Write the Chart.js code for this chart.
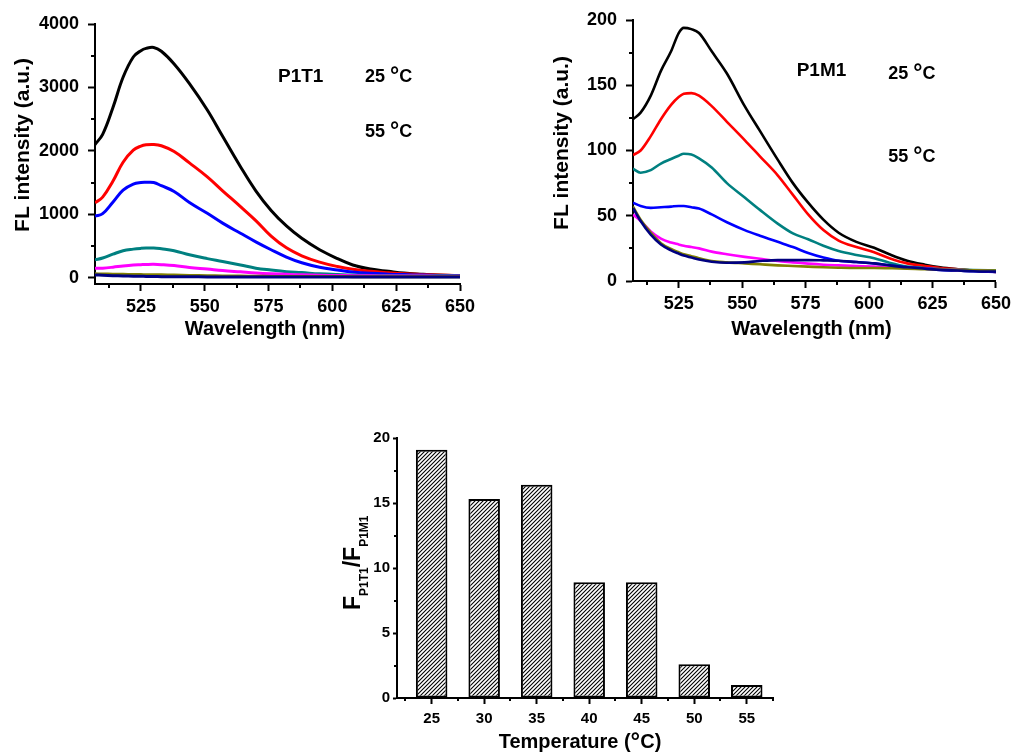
<!DOCTYPE html>
<html><head><meta charset="utf-8">
<script src="https://cdn.jsdelivr.net/npm/chart.js@4.4.1/dist/chart.umd.min.js"></script>
<style>
html,body{margin:0;padding:0;background:#fff;width:1016px;height:753px;overflow:hidden;}
canvas{position:absolute;}
</style></head><body>
<canvas id="c1" width="500" height="350" style="left:0px;top:0px"></canvas>
<canvas id="c2" width="476" height="350" style="left:540px;top:0px"></canvas>
<canvas id="c3" width="480" height="333" style="left:320px;top:420px"></canvas>
<script>
// ---------- data ----------
const wavelengths = [507,510,514,518,522,525,527,530,533,538,544,551,557,564,570,576,582,588,595,602,608,615,622,628,635,641,650];

// P1T1 spectra (25..55 °C)
const p1t1_25 = [2100,2260,2680,3160,3480,3580,3615,3630,3570,3370,3060,2645,2230,1750,1370,1060,815,620,440,300,200,135,100,72,54,42,32];
const p1t1_30 = [1180,1270,1520,1820,2010,2075,2095,2100,2080,1990,1810,1590,1370,1120,900,655,470,345,245,175,132,100,78,62,50,42,32];
const p1t1_35 = [970,1010,1190,1380,1475,1500,1503,1500,1450,1360,1185,1015,860,700,565,440,325,235,165,122,90,68,55,48,40,35,30];
const p1t1_40 = [280,310,370,425,450,462,466,468,455,425,360,300,255,200,150,120,95,80,60,48,42,36,33,31,30,29,28];
const p1t1_45 = [148,150,165,185,200,205,208,210,205,190,160,135,112,92,75,62,52,44,38,34,31,29,27,26,25,24,23];
const p1t1_50 = [60,58,55,52,50,48,47,46,44,40,36,32,28,25,22,20,19,18,17,17,16,16,16,15,15,15,15];
const p1t1_55 = [42,38,32,27,23,21,20,18,16,14,13,12,12,11,11,11,11,11,11,11,11,11,11,11,11,11,11];

// P1M1 spectra (25..55 °C)
const p1m1_25 = [124,129,142,161,176,190,194,193,190,176,159,134,115,93,75,60,47,37,30,25.5,20.5,15.5,12.5,10.5,9,8,7];
const p1m1_30 = [96.5,100,111,124,135,141,143.5,144,142,134,122,108,95.5,81,66,51,39,31,26,22,17.5,13.5,11.5,10,9,8,7];
const p1m1_35 = [86,83,85,90,93.5,96,97.5,97,94,87,75,64,54.5,44,36.5,32,27,23,20,17.5,14,11,10,9.2,8.8,8.4,8];
const p1m1_40 = [60,57.5,56,56.5,57,57.5,57.5,56.5,55.5,51,45,39,34.7,30,26,21.5,18,15.5,14.5,13.5,12,10.5,9.5,8.5,8,7.5,7];
const p1m1_45 = [51,46,38,32.5,29.5,28,27,26,25,22.5,20.5,18.5,17,15.3,14.3,13.3,12.5,12,11.5,11,10.5,10,9.5,9,8.5,8,7.5];
const p1m1_50 = [57,47,37,29,24.5,22,20.5,19,17.5,15.3,14.3,13.5,12.8,12,11.5,11,10.5,10.2,10,10,9.8,9.5,9,8.8,8.5,8.2,8];
const p1m1_55 = [56,46,35.5,28,23.5,21,19.5,18,16.5,14.8,14,14.3,15.3,16,16,16,15.8,15.5,14.5,13.5,12,10.5,9.5,8.5,8,7.5,7.2];

const seriesLabels = ['25 °C','30 °C','35 °C','40 °C','45 °C','50 °C','55 °C'];
const p1t1Colors = ['#000000','#ff0000','#0000ff','#008080','#ff00ff','#808000','#000080'];
const p1m1Colors = ['#000000','#ff0000','#008080','#0000ff','#ff00ff','#808000','#000080'];

// ratio bar chart
const temperatures = [25,30,35,40,45,50,55];
const ratios = [19.1,15.3,16.4,8.9,8.9,2.6,1.0];

// tick values
const wlTicks = [525,550,575,600,625,650];
const wlMinor = [512.5,537.5,562.5,587.5,612.5,637.5];
const p1t1Ticks = [0,1000,2000,3000,4000];
const p1t1Minor = [500,1500,2500,3500];
const p1m1Ticks = [0,50,100,150,200];
const p1m1Minor = [25,75,125,175];
const tempTicks = [25,30,35,40,45,50,55];
const tempMinor = [22.5,27.5,32.5,37.5,42.5,47.5,52.5,57.5];
const ratioTicks = [0,5,10,15,20];
const ratioMinor = [2.5,7.5,12.5,17.5];

// ---------- helpers ----------
const FONT = "'Liberation Sans', Arial, Helvetica, sans-serif";
Chart.defaults.font.family = FONT;
Chart.defaults.font.weight = 'bold';
Chart.defaults.color = '#000';
Chart.defaults.animation = false;

function axis(min, max, ticks, tl, pad, fitProp, fitVal, fontSize) {
  return {
    type: 'linear', min: min, max: max, offset: false,
    afterBuildTicks: s => { s.ticks = ticks.map(v => ({value: v})); },
    afterFit: s => { s[fitProp] = fitVal; },
    ticks: { font: {size: fontSize, weight: 'bold', family: FONT}, color: '#000', padding: pad,
             maxRotation: 0, minRotation: 0, autoSkip: false, callback: v => String(v) },
    grid: { display: true, drawOnChartArea: false, drawTicks: true, tickLength: tl,
            tickWidth: 2, tickColor: '#000', offset: false },
    border: { display: true, color: '#000', width: 2 }
  };
}

function minorPlugin(xs, ys, len) {
  return { id: 'minorTicks', afterDraw(chart) {
    const {ctx, chartArea: a, scales: {x, y}} = chart;
    ctx.save(); ctx.strokeStyle = '#000'; ctx.lineWidth = 2; ctx.beginPath();
    xs.forEach(v => { const px = Math.round(x.getPixelForValue(v)); ctx.moveTo(px, a.bottom); ctx.lineTo(px, a.bottom + len); });
    ys.forEach(v => { const py = Math.round(y.getPixelForValue(v)); ctx.moveTo(a.left, py); ctx.lineTo(a.left - len, py); });
    ctx.stroke(); ctx.restore();
  }};
}

function textPlugin(items) {
  return { id: 'texts', afterDraw(chart) {
    const ctx = chart.ctx;
    items.forEach(it => {
      ctx.save();
      ctx.fillStyle = '#000';
      ctx.textBaseline = 'alphabetic';
      ctx.translate(it.x, it.y);
      if (it.rot) ctx.rotate(it.rot);
      if (it.parts) {
        ctx.textAlign = 'left';
        let total = 0;
        it.parts.forEach(p => { ctx.font = 'bold ' + p.size + 'px ' + FONT; total += ctx.measureText(p.text).width; });
        let cx = it.align === 'center' ? -total / 2 : 0;
        it.parts.forEach(p => {
          ctx.font = 'bold ' + p.size + 'px ' + FONT;
          ctx.fillText(p.text, cx, p.dy || 0);
          cx += ctx.measureText(p.text).width;
        });
      } else {
        ctx.font = 'bold ' + it.size + 'px ' + FONT;
        ctx.textAlign = it.align || 'left';
        ctx.fillText(it.text, 0, 0);
      }
      ctx.restore();
    });
  }};
}

function degreeLabel(num, x, y) {
  return {x: x, y: y, parts: [{text: num + ' ', size: 18}, {text: '°', size: 23, dy: 1}, {text: 'C', size: 18}]};
}

function lineDatasets(seriesList, colors, width, smooth) {
  return seriesList.map((vals, i) => Object.assign({
    label: seriesLabels[i],
    data: vals.map((v, j) => ({x: wavelengths[j], y: v})),
    borderColor: colors[i], backgroundColor: colors[i],
    borderWidth: width, pointRadius: 0, fill: false,
    order: seriesList.length - 1 - i
  }, smooth));
}

const basePlugins = { legend: {display: false}, tooltip: {enabled: false}, title: {display: false} };

// ---------- chart 1: P1T1 ----------
new Chart(document.getElementById('c1'), {
  type: 'line',
  data: { datasets: lineDatasets([p1t1_25,p1t1_30,p1t1_35,p1t1_40,p1t1_45,p1t1_50,p1t1_55], p1t1Colors, 3,
          {tension: 0.4, cubicInterpolationMode: 'default'}) },
  options: {
    responsive: false, animation: false,
    layout: { padding: {left: 0, top: 24, right: 40, bottom: 0} },
    plugins: basePlugins,
    scales: {
      x: axis(507, 650, wlTicks, 7, 5, 'height', 66, 18),
      y: axis(-100, 4000, p1t1Ticks, 7, 9, 'width', 95, 18)
    }
  },
  plugins: [minorPlugin(wlMinor, p1t1Minor, 4), textPlugin([
    {text: 'FL intensity (a.u.)', x: 28.5, y: 145, size: 21, align: 'center', rot: -Math.PI/2},
    {text: 'Wavelength (nm)', x: 265, y: 335, size: 20, align: 'center'},
    {text: 'P1T1', x: 278, y: 82, size: 19},
    degreeLabel('25', 365, 82),
    degreeLabel('55', 365, 137)
  ])]
});

// ---------- chart 2: P1M1 ----------
new Chart(document.getElementById('c2'), {
  type: 'line',
  data: { datasets: lineDatasets([p1m1_25,p1m1_30,p1m1_35,p1m1_40,p1m1_45,p1m1_50,p1m1_55], p1m1Colors, 2.6,
          {cubicInterpolationMode: 'monotone'}) },
  options: {
    responsive: false, animation: false,
    layout: { padding: {left: 0, top: 20, right: 17, bottom: 0} },
    plugins: basePlugins,
    scales: {
      x: axis(507, 650, wlTicks, 7, 5, 'height', 69, 18),
      y: axis(0, 200, p1m1Ticks, 7, 9, 'width', 93, 18)
    }
  },
  plugins: [minorPlugin(wlMinor, p1m1Minor, 4), textPlugin([
    {text: 'FL intensity (a.u.)', x: 28.3, y: 143, size: 21, align: 'center', rot: -Math.PI/2},
    {text: 'Wavelength (nm)', x: 271.5, y: 335, size: 20, align: 'center'},
    {text: 'P1M1', x: 256.7, y: 76, size: 19},
    degreeLabel('25', 348.3, 79),
    degreeLabel('55', 348.3, 161.7)
  ])]
});

// ---------- chart 3: ratio bars ----------
function hatchPattern() {
  const c = document.createElement('canvas'); c.width = 4; c.height = 4;
  const g = c.getContext('2d');
  g.fillStyle = '#fff'; g.fillRect(0, 0, 4, 4);
  g.strokeStyle = '#000'; g.lineWidth = 1.1;
  g.beginPath();
  g.moveTo(0, 4); g.lineTo(4, 0);
  g.moveTo(-1, 1); g.lineTo(1, -1);
  g.moveTo(3, 5); g.lineTo(5, 3);
  g.stroke();
  return g.createPattern(c, 'repeat');
}

new Chart(document.getElementById('c3'), {
  type: 'bar',
  data: { datasets: [{
    label: 'FP1T1/FP1M1',
    data: temperatures.map((t, i) => ({x: t, y: ratios[i]})),
    backgroundColor: hatchPattern(), borderColor: '#000', borderWidth: 2, borderSkipped: false,
    barPercentage: 0.6, categoryPercentage: 1
  }]},
  options: {
    responsive: false, animation: false,
    layout: { padding: {left: 0, top: 18, right: 27, bottom: 0} },
    plugins: basePlugins,
    scales: {
      x: axis(21.7, 57.5, tempTicks, 6, 6, 'height', 55, 15),
      y: axis(0, 20, ratioTicks, 4, 3, 'width', 77, 15)
    }
  },
  plugins: [minorPlugin(tempMinor, ratioMinor, 3), textPlugin([
    {x: 260, y: 328, align: 'center', parts: [
      {text: 'Temperature (', size: 20}, {text: '°', size: 24, dy: 1}, {text: 'C)', size: 20}
    ]},
    {x: 40, y: 190, rot: -Math.PI/2, parts: [
      {text: 'F', size: 23}, {text: 'P1T1', size: 12, dy: 8},
      {text: '/F', size: 23}, {text: 'P1M1', size: 12, dy: 8}
    ]}
  ])]
});
</script>
</body></html>
